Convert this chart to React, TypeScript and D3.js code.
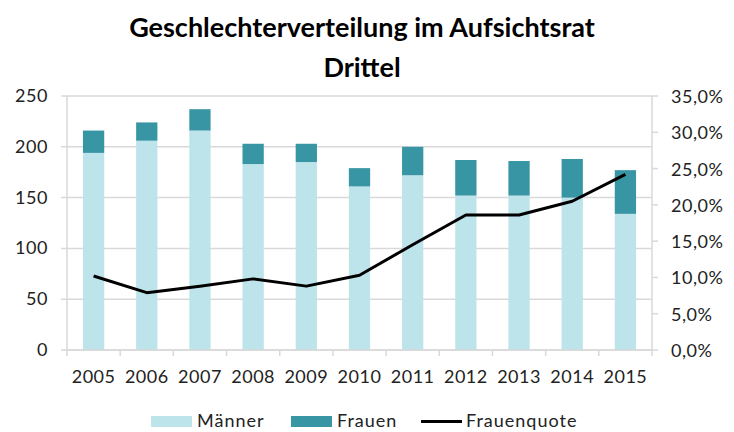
import React from 'react';
import * as d3 from 'd3';

const years = ['2005', '2006', '2007', '2008', '2009', '2010', '2011', '2012', '2013', '2014', '2015'];
const maenner = [194, 206, 216, 183, 185, 161, 172, 152, 152, 150, 134];
const frauen = [22, 18, 21, 20, 18, 18, 28, 35, 34, 38, 43];
const quote = [10.2, 7.9, 8.8, 9.8, 8.8, 10.3, 14.5, 18.6, 18.6, 20.5, 24.2];
const leftTicks = [0, 50, 100, 150, 200, 250];
const rightTicks = [0, 5, 10, 15, 20, 25, 30, 35];

const LIGHT = '#bde4ea';
const DARK = '#3895a4';
const GRID = '#d9d9d9';
const FONT = 'Lato, "Open Sans", sans-serif';

const App = () => {
  const width = 734;
  const height = 432;
  const margin = { top: 96, right: 82, bottom: 82, left: 67 };
  const x0 = margin.left;
  const x1 = width - margin.right;
  const yTop = margin.top;
  const yBot = height - margin.bottom;

  const x = d3.scaleBand().domain(years).range([x0, x1]).paddingInner(0.6).paddingOuter(0.3);
  const xb = d3.scaleBand().domain(years).range([x0, x1]);
  const y = d3.scaleLinear().domain([0, 250]).range([yBot, yTop]);
  const yr = d3.scaleLinear().domain([0, 35]).range([yBot, yTop]);

  const line = d3.line<number>()
    .x((_, i) => (xb(years[i]) as number) + xb.bandwidth() / 2)
    .y(d => yr(d));

  return (
    <svg width={width} height={height} style={{ position: 'absolute', left: 0, top: 0 }}>
      <rect width={width} height={height} fill="#fff" />
      <text x={362} y={37} textAnchor="middle" fontFamily={FONT} fontWeight="bold" fontSize={27} fill="#000">
        Geschlechterverteilung im Aufsichtsrat
      </text>
      <text x={362} y={77} textAnchor="middle" fontFamily={FONT} fontWeight="bold" fontSize={27} fill="#000">
        Drittel
      </text>

      {leftTicks.map(t => (
        <g key={t}>
          <line x1={x0 - 6} x2={x1} y1={y(t)} y2={y(t)} stroke={GRID} strokeWidth={1.5} />
          <text x={48} y={y(t) + 6} textAnchor="end" fontFamily={FONT} fontSize={18} letterSpacing={0.6} fill="#222">{t}</text>
        </g>
      ))}

      {years.map((yr_, i) => {
        const bx = x(yr_) as number;
        const bw = x.bandwidth();
        return (
          <g key={yr_}>
            <rect x={bx} y={y(maenner[i])} width={bw} height={y(0) - y(maenner[i])} fill={LIGHT} />
            <rect x={bx} y={y(maenner[i] + frauen[i])} width={bw} height={y(maenner[i]) - y(maenner[i] + frauen[i])} fill={DARK} />
          </g>
        );
      })}

      <line x1={x0} x2={x0} y1={yTop} y2={yBot} stroke={GRID} strokeWidth={1.5} />
      <line x1={x1} x2={x1} y1={yTop} y2={yBot} stroke={GRID} strokeWidth={1.5} />
      <line x1={x0} x2={x1} y1={yBot} y2={yBot} stroke={GRID} strokeWidth={1.5} />

      {years.concat(['end']).map((k, i) => {
        const tx = x0 + i * xb.bandwidth();
        return <line key={k} x1={tx} x2={tx} y1={yBot} y2={yBot + 6} stroke={GRID} strokeWidth={1.5} />;
      })}
      {years.map(yr_ => (
        <text key={yr_} x={(xb(yr_) as number) + xb.bandwidth() / 2} y={yBot + 33} textAnchor="middle"
          fontFamily={FONT} fontSize={18} letterSpacing={0.5} fill="#222">{yr_}</text>
      ))}

      {rightTicks.map(t => (
        <g key={t}>
          <line x1={x1} x2={x1 + 6} y1={yr(t)} y2={yr(t)} stroke={GRID} strokeWidth={1.5} />
          <text x={x1 + 19} y={yr(t) + 7} textAnchor="start" fontFamily={FONT} fontSize={18} letterSpacing={0.5} fill="#222">
            {t.toFixed(1).replace('.', ',') + '%'}
          </text>
        </g>
      ))}

      <path d={line(quote) || ''} fill="none" stroke="#000" strokeWidth={3} strokeLinejoin="round" />

      <g fontFamily={FONT} fontSize={18} letterSpacing={1} fill="#222">
        <rect x={151} y={416} width={41} height={11} fill={LIGHT} />
        <text x={197} y={427}>Männer</text>
        <rect x={291} y={416} width={41} height={11} fill={DARK} />
        <text x={337} y={427}>Frauen</text>
        <line x1={421} x2={462} y1={421.5} y2={421.5} stroke="#000" strokeWidth={3} />
        <text x={466} y={427}>Frauenquote</text>
      </g>
    </svg>
  );
};

export default App;
